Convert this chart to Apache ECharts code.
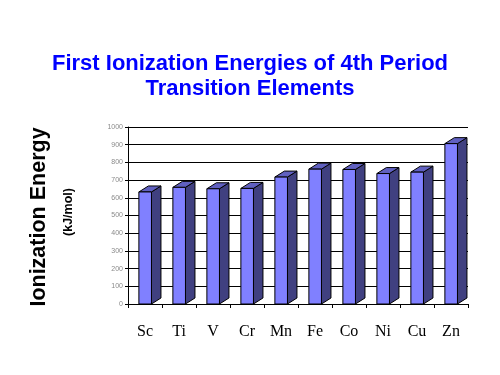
<!DOCTYPE html>
<html>
<head>
<meta charset="utf-8">
<script src="https://cdn.jsdelivr.net/npm/echarts@6/dist/echarts.min.js"></script>
<style>html,body{margin:0;padding:0;background:#fff;}#c{width:500px;height:375px;}</style>
</head>
<body>
<div id="c"></div>
<script>
var categories = ['Sc', 'Ti', 'V', 'Cr', 'Mn', 'Fe', 'Co', 'Ni', 'Cu', 'Zn'];
var energies = [633, 659, 651, 653, 717, 762, 760, 737, 745, 906];
var yTicks = [0, 100, 200, 300, 400, 500, 600, 700, 800, 900, 1000];
var titleText = 'First Ionization Energies of 4th Period\nTransition Elements';

var chart = echarts.init(document.getElementById('c'), null, {renderer: 'canvas'});

function renderBar(params, api) {
  var idx = api.value(0);
  var val = api.value(1);
  var top = api.coord([idx, val]);
  var base = api.coord([idx, 0]);
  var bw = api.size([1, 0])[0];
  var start = top[0] - bw / 2;
  var x0 = start + bw * 0.32;
  var x1 = start + bw * 0.69;
  var dx = 9.5, dy = 6;
  var yt = top[1], yb = base[1];
  var st = {stroke: '#000', lineWidth: 1};
  return {
    type: 'group',
    children: [
      {type: 'polygon', shape: {points: [[x1, yb], [x1 + dx, yb - dy], [x1 + dx, yt - dy], [x1, yt]]},
       style: Object.assign({fill: '#404080'}, st)},
      {type: 'polygon', shape: {points: [[x0, yt], [x0 + dx, yt - dy], [x1 + dx, yt - dy], [x1, yt]]},
       style: Object.assign({fill: '#6060c0'}, st)},
      {type: 'rect', shape: {x: x0, y: yt, width: x1 - x0, height: yb - yt},
       style: Object.assign({fill: '#8080ff'}, st)}
    ]
  };
}

chart.setOption({
  animation: false,
  backgroundColor: '#fff',
  title: {
    text: titleText,
    left: 'center',
    top: 46,
    textStyle: {color: '#0000ff', fontSize: 22, fontWeight: 'bold', fontFamily: 'Liberation Sans, Arial', lineHeight: 25}
  },
  grid: {left: 128, right: 32, top: 127, bottom: 71},
  xAxis: {
    type: 'category',
    data: categories,
    boundaryGap: true,
    axisLine: {lineStyle: {color: '#000', width: 1}},
    axisTick: {show: true, length: 4, alignWithLabel: false, lineStyle: {color: '#000'}},
    axisLabel: {color: '#000', fontSize: 16, fontFamily: 'Liberation Serif, Times New Roman', margin: 20},
    splitLine: {show: false}
  },
  yAxis: [{
    type: 'value',
    min: 0, max: 1000, interval: 100,
    axisLine: {show: true, lineStyle: {color: '#000'}},
    axisTick: {show: true, length: 3, lineStyle: {color: '#000'}},
    axisLabel: {color: '#8a8a8a', fontSize: 7, fontFamily: 'Liberation Sans, Arial', margin: 5,
      formatter: function (v) { return yTicks.indexOf(v) >= 0 ? String(v) : ''; }},
    splitLine: {show: true, lineStyle: {color: '#000', width: 1}}
  }, {
    type: 'value',
    position: 'left',
    min: 0, max: 1000, interval: 100,
    axisLine: {show: false},
    axisTick: {show: true, inside: true, length: 3, lineStyle: {color: '#000'}},
    axisLabel: {show: false},
    splitLine: {show: false}
  }],
  graphic: [
    {type: 'text', x: 39, y: 217, rotation: Math.PI / 2, style: {text: 'Ionization Energy', fill: '#000', fontSize: 21.5, fontWeight: 'bold', fontFamily: 'Liberation Sans, Arial', align: 'center', verticalAlign: 'middle'}},
    {type: 'text', x: 69, y: 212, rotation: Math.PI / 2, style: {text: '(kJ/mol)', fill: '#000', fontSize: 12.5, fontWeight: 'bold', fontFamily: 'Liberation Sans Narrow, Liberation Sans, Arial', align: 'center', verticalAlign: 'middle'}}
  ],
  series: [{
    type: 'custom',
    renderItem: renderBar,
    encode: {x: 0, y: 1},
    data: energies.map(function (v, i) { return [i, v]; }),
    z: 5
  }]
});
</script>
</body>
</html>
